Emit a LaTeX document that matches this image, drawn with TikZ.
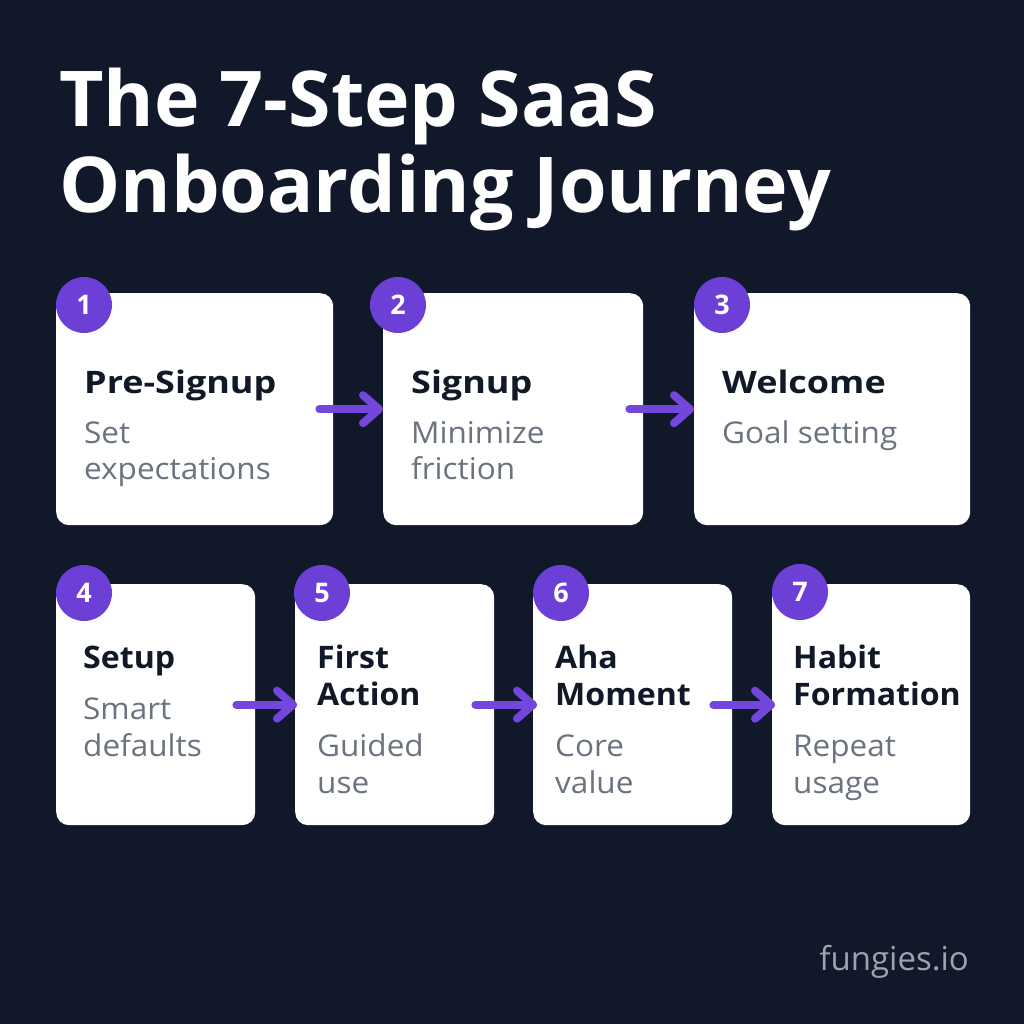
\documentclass[tikz,border=0pt]{standalone}
\usepackage{fontspec}
\setmainfont{Open Sans}
\newfontfamily\cardA{Open Sans}[FakeStretch=1.16]
\newfontfamily\cardB{Open Sans}[FakeStretch=1.035]
\newfontfamily\cardS{Open Sans}[FakeStretch=1.05]
\usetikzlibrary{calc}
\definecolor{bg}{HTML}{10182A}
\definecolor{ink}{HTML}{111827}
\definecolor{sub}{HTML}{6B7280}
\definecolor{purp}{HTML}{6C40D6}
\definecolor{arrc}{HTML}{7447DC}
\definecolor{foot}{HTML}{9CA3AF}
\tikzset{
  card/.style={fill=white, rounded corners=13pt, draw=none, inner sep=0pt, anchor=north west},
  numc/.style={circle, fill=purp, minimum size=56pt, inner sep=0pt, text=white, font=\bfseries\fontsize{27}{30}\selectfont},
  ttl/.style={anchor=base west, inner sep=0pt, text=ink, font=\cardA\bfseries\fontsize{31}{36}\selectfont},
  ttlb/.style={anchor=base west, inner sep=0pt, text=ink, font=\cardB\bfseries\fontsize{31}{36}\selectfont},
  subt/.style={anchor=base west, inner sep=0pt, text=sub, font=\cardS\fontsize{30}{36}\selectfont},
  head/.style={anchor=base west, inner sep=0pt, text=white, font=\bfseries\fontsize{77}{90}\selectfont},
  arrline/.style={draw=arrc, line width=8pt, line cap=round, line join=round}
}
\begin{document}
\begin{tikzpicture}[x=1pt,y=-1pt]
\fill[bg] (0,0) rectangle (1024,1024);
\useasboundingbox (0,0) rectangle (1024,1024);

% title
\node[head] (h1) at (59,127) {The 7-Step SaaS};
\node[head] (h2) at (59,213) {Onboarding Journey};

% row 1 cards
\node[card, minimum width=277pt, minimum height=232pt] (b1) at (56,293) {};
\node[card, minimum width=260pt, minimum height=232pt] (b2) at (383,293) {};
\node[card, minimum width=276pt, minimum height=232pt] (b3) at (694,293) {};
% row 2 cards
\node[card, minimum width=199pt, minimum height=241pt] (b4) at (56,584) {};
\node[card, minimum width=199pt, minimum height=241pt] (b5) at (295,584) {};
\node[card, minimum width=199pt, minimum height=241pt] (b6) at (533,584) {};
\node[card, minimum width=198pt, minimum height=241pt] (b7) at (772,584) {};

% number badges
\node[numc] (n1) at (84,305) {1};
\node[numc] (n2) at (398,305) {2};
\node[numc] (n3) at (722,305) {3};
\node[numc] (n4) at (84,593) {4};
\node[numc] (n5) at (322,593) {5};
\node[numc] (n6) at (561,593) {6};
\node[numc] (n7) at (800,592) {7};

% texts row 1
\node[ttl] (t1) at (84,393) {Pre-Signup};
\node[subt] (s1a) at (84,443) {Set};
\node[subt] (s1b) at (84,479) {expectations};
\node[ttl] (t2) at (411,393) {Signup};
\node[subt] (s2a) at (411,443) {Minimize};
\node[subt] (s2b) at (411,479) {friction};
\node[ttl] (t3) at (722,393) {Welcome};
\node[subt] (s3a) at (722,443) {Goal setting};

% texts row 2
\node[ttlb] (t4) at (83,668) {Setup};
\node[subt] (s4a) at (83,719) {Smart};
\node[subt] (s4b) at (83,756) {defaults};
\node[ttlb] (t5a) at (317,668) {First};
\node[ttlb] (t5b) at (317,705) {Action};
\node[subt] (s5a) at (317,756) {Guided};
\node[subt] (s5b) at (317,793) {use};
\node[ttlb] (t6a) at (555,668) {Aha};
\node[ttlb] (t6b) at (555,705) {Moment};
\node[subt] (s6a) at (555,756) {Core};
\node[subt] (s6b) at (555,793) {value};
\node[ttlb] (t7a) at (793,668) {Habit};
\node[ttlb] (t7b) at (793,705) {Formation};
\node[subt] (s7a) at (793,756) {Repeat};
\node[subt] (s7b) at (793,793) {usage};

% arrows
\coordinate (a1s) at ($(b1.east)+(-14,0)$);
\coordinate (a1t) at ($(b2.west)+(-4,0)$);
\coordinate (a2s) at ($(b2.east)+(-14,0)$);
\coordinate (a2t) at ($(b3.west)+(-4,0)$);
\coordinate (a3s) at ($(b4.east)+(-19,0)$);
\coordinate (a3t) at ($(b5.west)+(-2,0)$);
\coordinate (a4s) at ($(b5.east)+(-19,0)$);
\coordinate (a4t) at ($(b6.west)+(0,0)$);
\coordinate (a5s) at ($(b6.east)+(-19,0)$);
\coordinate (a5t) at ($(b7.west)+(-1,0)$);
\foreach \s/\t in {a1s/a1t,a2s/a2t,a3s/a3t,a4s/a4t,a5s/a5t}{
  \draw[arrline] (\s) -- (\t);
  \draw[arrline] ($(\t)+(-16,-14)$) -- (\t) -- ($(\t)+(-16,14)$);
}

% footer
\node[anchor=base east, inner sep=0pt, text=foot, font=\fontsize{33}{36}\selectfont] (ft) at (969,970) {fungies.io};
\end{tikzpicture}
\end{document}
